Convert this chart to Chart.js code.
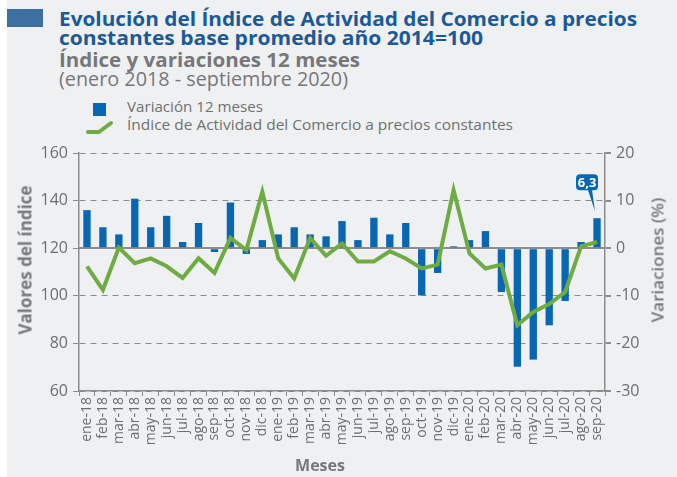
<!DOCTYPE html>
<html>
<head>
<meta charset="utf-8">
<script src="https://cdn.jsdelivr.net/npm/chart.js@4"></script>
<style>
  html, body { margin: 0; padding: 0; }
  body { width: 677px; height: 477px; background: #fff; position: relative; overflow: hidden; font-family: "Open Sans", sans-serif; }
  #panel { position: absolute; left: 7px; top: 0; width: 670px; height: 477px; background: #eff0f2; }
  .t { position: absolute; white-space: nowrap; transform-origin: left top; }
  #canvasWrap { position: absolute; left: 0; top: 0; }
</style>
</head>
<body>
<div id="panel"></div>
<div style="position:absolute;left:7px;top:9px;width:36px;height:18px;background:#3d6fa0"></div>
<div class="t fit" data-w="578" style="left:59px;top:9px;font-size:20px;line-height:20px;font-weight:700;color:#1b5a97">Evolución del Índice de Actividad del Comercio a precios</div>
<div class="t fit" data-w="424" style="left:59px;top:28px;font-size:20px;line-height:20px;font-weight:700;color:#1b5a97">constantes base promedio año 2014=100</div>
<div class="t fit" data-w="301" style="left:59px;top:50px;font-size:20px;line-height:20px;font-weight:700;color:#76777a">Índice y variaciones 12 meses</div>
<div class="t fit" data-w="289" style="left:59px;top:69px;font-size:20px;line-height:20px;font-weight:400;color:#76777a">(enero 2018 - septiembre 2020)</div>

<div style="position:absolute;left:93px;top:103px;width:13px;height:13px;background:#0867b3"></div>
<div class="t fit" data-w="136" style="left:127px;top:100px;font-size:14px;line-height:14px;color:#707070">Variación 12 meses</div>
<svg style="position:absolute;left:85px;top:120px" width="30" height="16"><polyline points="3,12 14,12 26,3" fill="none" stroke="#6fab43" stroke-width="4" stroke-linecap="round" stroke-linejoin="round"/></svg>
<div class="t fit" data-w="386" style="left:127px;top:118px;font-size:14px;line-height:14px;color:#707070">Índice de Actividad del Comercio a precios constantes</div>

<div id="canvasWrap"><canvas id="barChart" width="677" height="477"></canvas></div>

<div class="t" style="left:25px;top:260px;transform-origin:center;transform:translate(-50%,-50%) rotate(-90deg);font-size:17px;font-weight:700;color:#76777a">Valores del índice</div>
<div class="t" style="left:657px;top:260px;transform-origin:center;transform:translate(-50%,-50%) rotate(-90deg);font-size:17px;font-weight:600;color:#76777a">Variaciones (%)</div>
<div class="t" style="left:320px;top:454px;transform-origin:center;transform:translate(-50%,0);font-size:16px;font-weight:700;color:#76777a">Meses</div>

<script>
var meses = ['ene-18','feb-18','mar-18','abr-18','may-18','jun-18','jul-18','ago-18','sep-18','oct-18','nov-18','dic-18',
             'ene-19','feb-19','mar-19','abr-19','may-19','jun-19','jul-19','ago-19','sep-19','oct-19','nov-19','dic-19',
             'ene-20','feb-20','mar-20','abr-20','may-20','jun-20','jul-20','ago-20','sep-20'];

// variacion 12 meses (%)
var variacion = [8.0, 4.4, 2.9, 10.4, 4.4, 6.8, 1.3, 5.3, -0.8, 9.6, -1.2, 1.7,
                 2.9, 4.4, 2.9, 2.5, 5.7, 1.7, 6.4, 2.9, 5.3, -9.9, -5.2, 0.4,
                 1.7, 3.6, -9.2, -24.9, -23.4, -16.2, -11.1, 1.3, 6.3];

// indice base 2014=100
var indice = [112.4, 102.5, 120.3, 113.7, 115.7, 112.4, 107.5, 115.8, 109.6, 124.3, 119.2, 143.7,
              115.7, 107.3, 124.3, 116.8, 122.0, 114.4, 114.4, 118.7, 115.7, 111.5, 113.1, 144.4,
              117.8, 111.5, 113.1, 87.6, 93.2, 96.5, 101.6, 120.8, 122.6];

var ultimoLabel = '6,3';

// fit header text widths
document.querySelectorAll('.fit').forEach(function (el) {
    var w = el.getBoundingClientRect().width;
    var target = parseFloat(el.getAttribute('data-w'));
    el.style.transform = 'scaleX(' + (target / w) + ')';
});

var gris = '#8c8c8c';
var textoGris = '#6d6e70';

var callout = {
    id: 'callout',
    afterDatasetsDraw: function (chart) {
        var meta = chart.getDatasetMeta(0);
        var bar = meta.data[meta.data.length - 1];
        var ctx = chart.ctx;
        var bx = bar.x - 10, by = bar.y - 36;
        var w = 22, h = 16, r = 4;
        ctx.save();
        ctx.fillStyle = '#0867b3';
        ctx.beginPath();
        ctx.moveTo(bx - w / 2 + r, by - h / 2);
        ctx.lineTo(bx + w / 2 - r, by - h / 2);
        ctx.quadraticCurveTo(bx + w / 2, by - h / 2, bx + w / 2, by - h / 2 + r);
        ctx.lineTo(bx + w / 2, by + h / 2 - r);
        ctx.quadraticCurveTo(bx + w / 2, by + h / 2, bx + w / 2 - r, by + h / 2);
        ctx.lineTo(bx + 5, by + h / 2);
        ctx.lineTo(bar.x - 2, bar.y - 7);
        ctx.lineTo(bx + 1, by + h / 2);
        ctx.lineTo(bx - w / 2 + r, by + h / 2);
        ctx.quadraticCurveTo(bx - w / 2, by + h / 2, bx - w / 2, by + h / 2 - r);
        ctx.lineTo(bx - w / 2, by - h / 2 + r);
        ctx.quadraticCurveTo(bx - w / 2, by - h / 2, bx - w / 2 + r, by - h / 2);
        ctx.closePath();
        ctx.fill();
        ctx.fillStyle = '#fff';
        ctx.font = 'bold 13px "Open Sans"';
        ctx.textAlign = 'center';
        ctx.textBaseline = 'middle';
        ctx.fillText(ultimoLabel, bx, by + 1);
        ctx.restore();
    }
};

var ctx2 = document.getElementById('barChart').getContext('2d');
new Chart(ctx2, {
    type: 'bar',
    data: {
        labels: meses,
        datasets: [
            {
                label: 'Variación 12 meses',
                data: variacion,
                backgroundColor: '#0867b3',
                yAxisID: 'y1',
                order: 1,
                categoryPercentage: 1,
                barPercentage: 0.46
            },
            {
                type: 'line',
                label: 'Índice de Actividad del Comercio a precios constantes',
                data: indice,
                borderColor: '#6fab43',
                borderWidth: 4,
                pointRadius: 0,
                tension: 0,
                yAxisID: 'y',
                order: 0
            }
        ]
    },
    options: {
        responsive: false,
        animation: false,
        layout: { padding: { top: 153, left: 0, right: 0, bottom: 0 } },
        plugins: { legend: { display: false }, tooltip: { enabled: false } },
        scales: {
            x: {
                offset: true,
                grid: { offset: true, drawOnChartArea: false, drawTicks: true, tickLength: 5, color: gris, tickColor: gris },
                border: { color: gris, width: 1.5 },
                ticks: { autoSkip: false, minRotation: 90, maxRotation: 90, color: textoGris, padding: 1,
                         font: { family: 'Open Sans', size: 14 } },
                afterFit: function (s) { s.height = 86; }
            },
            y: {
                position: 'left',
                min: 60, max: 160,
                ticks: { stepSize: 20, color: textoGris, padding: 5, font: { family: 'Open Sans', size: 16 } },
                grid: {
                    color: function (c) { return c.tick && c.tick.value === 120 ? 'rgba(0,0,0,0)' : gris; },
                    tickColor: gris, tickLength: 6, lineWidth: 1
                },
                border: { color: gris, width: 1.5, dash: [6, 5] },
                afterFit: function (s) { s.width = 79; }
            },
            y1: {
                position: 'right',
                min: -30, max: 20,
                ticks: { stepSize: 10, color: textoGris, padding: 5, font: { family: 'Open Sans', size: 16 } },
                grid: {
                    color: function (c) { return c.tick && c.tick.value === 0 ? gris : 'rgba(0,0,0,0)'; },
                    tickColor: gris, tickLength: 6, lineWidth: 2
                },
                border: { color: gris, width: 1.5 },
                afterFit: function (s) { s.width = 72; }
            }
        }
    },
    plugins: [callout]
});
</script>
</body>
</html>
